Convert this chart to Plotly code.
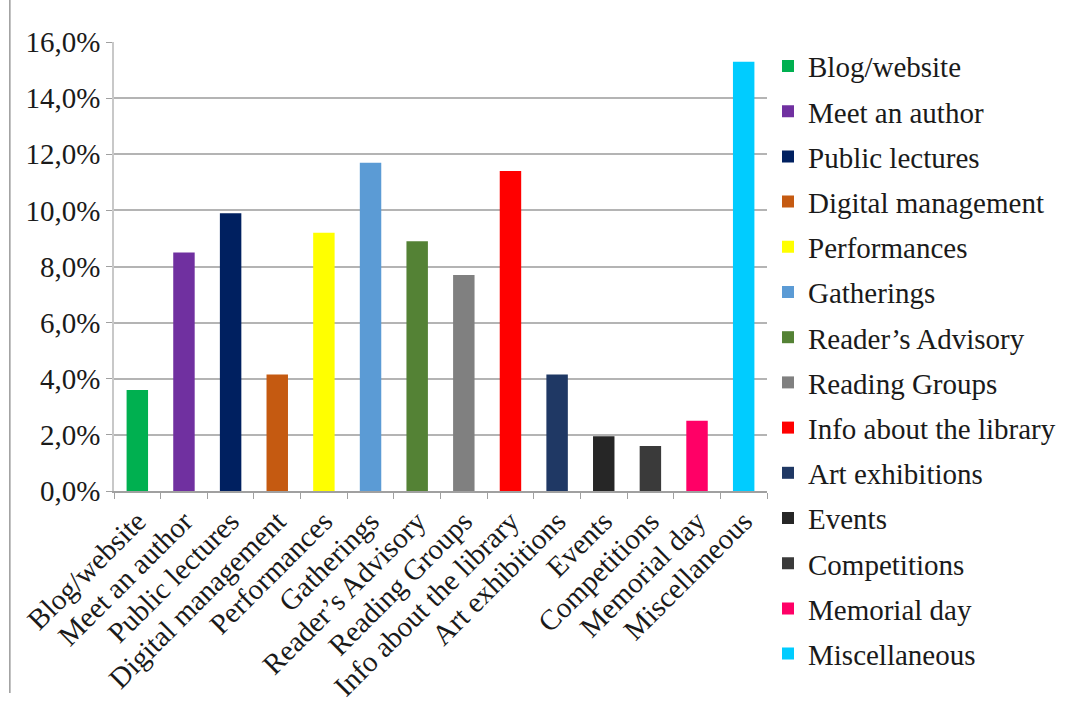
import plotly.graph_objects as go

# Share of activities by category (percent)
categories = [
    "Blog/website", "Meet an author", "Public lectures", "Digital management",
    "Performances", "Gatherings", "Reader’s Advisory", "Reading Groups",
    "Info about the library", "Art exhibitions", "Events", "Competitions",
    "Memorial day", "Miscellaneous",
]
values = [3.6, 8.5, 9.9, 4.15, 9.2, 11.7, 8.9, 7.7, 11.4, 4.15, 1.95, 1.6, 2.5, 15.3]
colors = [
    "#00b050", "#7030a0", "#002060", "#c55a11",
    "#ffff00", "#5b9bd5", "#548235", "#808080",
    "#ff0000", "#1f3864", "#262626", "#3a3a3a",
    "#ff0066", "#00ccff",
]
y_ticks = [0, 2, 4, 6, 8, 10, 12, 14, 16]
y_ticktext = [f"{v:.1f}%".replace(".", ",") for v in y_ticks]

FONT = "Liberation Serif, Times New Roman, serif"
TEXT = "#1a1a1a"
FS = 29

fig = go.Figure()
for name, val, col in zip(categories, values, colors):
    fig.add_trace(go.Bar(
        x=[name], y=[val], name=name,
        marker=dict(color=col, line=dict(width=0)),
        width=0.46, legendgroup=name,
    ))

# thin frame line along the left edge
fig.add_shape(type="line", xref="paper", yref="paper",
              x0=-0.1595, x1=-0.1595, y0=-0.45, y1=1.1,
              line=dict(color="#9a9a9a", width=1.5))

fig.update_layout(
    width=1072, height=713,
    margin=dict(l=114, r=304, t=42, b=222),
    paper_bgcolor="white", plot_bgcolor="white",
    barmode="overlay",
    font=dict(family=FONT, size=FS, color=TEXT),
    showlegend=True,
    legend=dict(
        x=1.0, xanchor="left", y=1.003, yanchor="top",
        font=dict(family=FONT, size=FS, color=TEXT),
        itemwidth=30, tracegroupgap=4.5, maxheight=690,
        bgcolor="rgba(0,0,0,0)",
    ),
    xaxis=dict(
        categoryorder="array", categoryarray=categories,
        tickangle=-45, tickson="boundaries",
        ticks="outside", ticklen=6, tickcolor="#a0a0a0",
        showline=True, linecolor="#a0a0a0", linewidth=1.5,
        showgrid=False, automargin=False,
        tickfont=dict(family=FONT, size=FS, color=TEXT),
    ),
    yaxis=dict(
        range=[0, 16], tickvals=y_ticks, ticktext=y_ticktext,
        ticks="outside", ticklen=6, tickcolor="#a0a0a0",
        showline=True, linecolor="#c8c8c8", linewidth=1.5,
        showgrid=True, gridcolor="#b4b4b4", gridwidth=1.5,
        zeroline=False, automargin=False,
        tickfont=dict(family=FONT, size=FS, color=TEXT),
    ),
)

fig.write_html("out.html")
